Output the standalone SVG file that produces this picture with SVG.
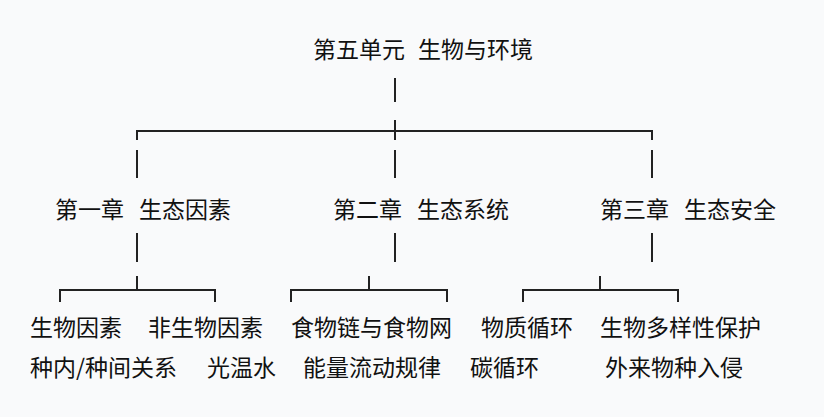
<svg xmlns="http://www.w3.org/2000/svg" width="824" height="417" viewBox="0 0 824 417">
<style>
text{font-family:"Noto Sans CJK SC","Noto Sans",sans-serif;font-size:23px;fill:#111}
.l{stroke:#222;stroke-width:2;fill:none}
</style>
<rect width="824" height="417" fill="#f9fafb"/>
<g id="root"><text x="313" y="58">第五单元<tspan x="418">生物与环境</tspan></text></g>
<g id="ch1"><text x="55" y="218">第一章<tspan x="139">生态因素</tspan></text></g>
<g id="ch2"><text x="333" y="218">第二章<tspan x="417">生态系统</tspan></text></g>
<g id="ch3"><text x="600" y="218">第三章<tspan x="684">生态安全</tspan></text></g>
<g id="leaf1"><text x="30" y="336">生物因素</text></g>
<g id="leaf2"><text x="148" y="336">非生物因素</text></g>
<g id="leaf3"><text x="291" y="336">食物链与食物网</text></g>
<g id="leaf4"><text x="481" y="336">物质循环</text></g>
<g id="leaf5"><text x="600" y="336">生物多样性保护</text></g>
<g id="leaf6"><text x="30" y="376">种内/种间关系</text></g>
<g id="leaf7"><text x="207" y="376">光温水</text></g>
<g id="leaf8"><text x="303" y="376">能量流动规律</text></g>
<g id="leaf9"><text x="470" y="376">碳循环</text></g>
<g id="leaf10"><text x="605" y="376">外来物种入侵</text></g>
<g id="connectors" class="l">
<path d="M395 78V102M395 120V140M137 140V131H652V140M137 150V178M395 150V178M652 150V178"/>
<path d="M137 233V262M395 233V262M652 233V262"/>
<path d="M60 302V290H215V302M137 290V276"/>
<path d="M291 302V290H447V302M369 290V276"/>
<path d="M523 302V290H678V302M600 290V276"/>
</g>
</svg>
